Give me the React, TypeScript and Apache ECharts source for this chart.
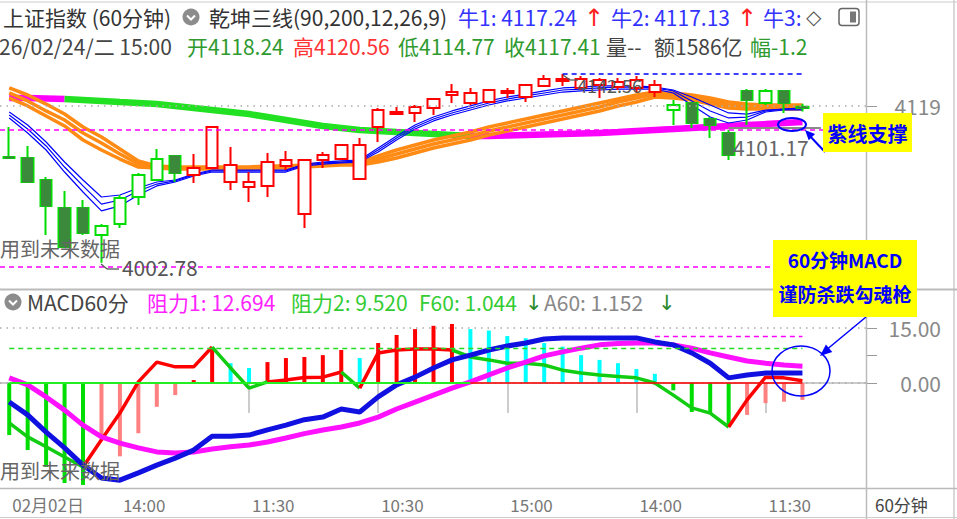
import React, { useEffect, useRef } from "react";
import * as echarts from "echarts";

const FONT = '"Noto Sans CJK SC","Noto Sans",sans-serif';
const ARROW_FONT = '"DejaVu Sans",sans-serif';

// 47 category slots (44 bars + empty space at right)
const categories = Array.from({ length: 47 }, (_, i) => String(i));
const axisTickIndex = [0, 6, 13, 20, 27, 34, 41];
const axisTickText = ["02月02日", "14:00", "11:30", "10:30", "15:00", "14:00", "11:30"];

// [open, close, low, high]
const candles: number[][] = [
  [4081.1, 4080.4, 4079.6, 4103.3],
  [4080.4, 4062.6, 4062.6, 4089.3],
  [4064.1, 4044.9, 4023.4, 4066.3],
  [4043.4, 4014.5, 4013.8, 4056.0],
  [4043.4, 4024.9, 4023.4, 4049.3],
  [4023.4, 4030.1, 4002.78, 4031.5],
  [4031.5, 4050.8, 4028.6, 4053.0],
  [4051.5, 4067.8, 4045.6, 4069.3],
  [4064.1, 4079.6, 4064.1, 4087.0],
  [4081.9, 4069.3, 4062.6, 4081.9],
  [4067.8, 4073.0, 4061.9, 4083.3],
  [4073.0, 4103.3, 4073.0, 4104.1],
  [4075.2, 4062.6, 4056.7, 4088.5],
  [4062.6, 4058.9, 4047.8, 4070.0],
  [4059.7, 4077.4, 4051.5, 4084.1],
  [4078.9, 4074.5, 4071.5, 4085.6],
  [4038.9, 4078.9, 4028.6, 4079.6],
  [4078.9, 4082.6, 4073.0, 4084.8],
  [4079.6, 4090.0, 4078.9, 4090.0],
  [4090.0, 4064.8, 4064.8, 4095.2],
  [4103.3, 4115.9, 4092.2, 4117.4],
  [4114.4, 4112.9, 4112.2, 4118.1],
  [4113.7, 4118.1, 4107.0, 4119.6],
  [4117.4, 4124.0, 4112.2, 4124.8],
  [4129.2, 4127.0, 4121.1, 4135.1],
  [4128.5, 4121.1, 4119.6, 4132.2],
  [4121.8, 4130.7, 4121.1, 4131.4],
  [4130.0, 4128.5, 4124.8, 4132.2],
  [4125.5, 4134.4, 4121.8, 4135.1],
  [4133.7, 4138.8, 4133.7, 4141.8],
  [4138.8, 4137.4, 4133.7, 4142.56],
  [4138.8, 4132.2, 4130.7, 4141.1],
  [4138.1, 4134.4, 4124.8, 4139.6],
  [4136.6, 4132.9, 4130.7, 4139.6],
  [4138.1, 4132.2, 4129.2, 4141.1],
  [4134.4, 4129.2, 4125.5, 4138.1],
  [4115.9, 4119.6, 4104.8, 4123.3],
  [4121.1, 4106.3, 4102.6, 4121.1],
  [4109.2, 4104.8, 4095.2, 4110.7],
  [4098.9, 4082.6, 4078.9, 4101.1],
  [4130.0, 4123.3, 4104.8, 4131.4],
  [4121.1, 4130.0, 4119.6, 4131.4],
  [4130.0, 4121.1, 4113.7, 4130.0],
  [4118.24, 4117.41, 4114.77, 4120.56],
];
const candleTone = "ggggggggggrrrrrrrrrrrrrrrrrrrrrrrrrrgggggggg";

// 乾坤三线: long line (green falling / magenta rising)
const longLine = [4124.8, 4124.8, 4124.4, 4124.0, 4123.3, 4122.6, 4121.8, 4121.1, 4120.3, 4118.9, 4117.4, 4115.9, 4114.4, 4112.9, 4110.7, 4108.5, 4106.3, 4104.1, 4102.6, 4101.1, 4100.4, 4099.6, 4098.9, 4098.1, 4097.4, 4096.7, 4096.7, 4097.0, 4097.4, 4097.8, 4098.1, 4098.5, 4098.9, 4099.6, 4100.4, 4101.1, 4101.8, 4102.6, 4103.3, 4104.1, 4104.8, 4105.5, 4106.3, 4107.0];
const longTurns = [3, 25];

const orangeA = [4132.2, 4127.0, 4120.3, 4112.9, 4103.3, 4095.9, 4087.0, 4078.2, 4074.5, 4073.7, 4073.7, 4073.7, 4073.7, 4073.7, 4074.5, 4074.5, 4075.2, 4075.9, 4076.7, 4076.7, 4081.9, 4086.3, 4090.0, 4093.7, 4096.7, 4099.6, 4103.3, 4106.3, 4109.2, 4112.2, 4115.2, 4118.1, 4121.1, 4124.0, 4127.0, 4129.2, 4128.5, 4127.0, 4124.8, 4121.8, 4120.3, 4119.6, 4119.6, 4119.6];
const orangeB = [4128.5, 4122.6, 4115.2, 4108.5, 4098.9, 4091.5, 4083.3, 4075.9, 4073.7, 4073.0, 4073.0, 4073.0, 4073.0, 4073.0, 4073.7, 4073.7, 4074.5, 4075.2, 4075.9, 4075.9, 4079.6, 4083.3, 4087.0, 4090.7, 4093.7, 4096.7, 4100.4, 4103.3, 4106.3, 4109.2, 4112.2, 4115.2, 4118.1, 4121.8, 4124.8, 4127.7, 4127.0, 4124.8, 4122.6, 4119.6, 4118.9, 4118.1, 4118.1, 4118.1];
const orangeC = [4124.8, 4118.9, 4111.5, 4104.1, 4093.7, 4086.3, 4079.6, 4073.7, 4073.0, 4072.2, 4072.2, 4072.2, 4072.2, 4072.2, 4073.0, 4073.0, 4073.7, 4074.5, 4075.2, 4075.2, 4077.4, 4080.4, 4084.1, 4087.8, 4090.7, 4093.7, 4097.4, 4100.4, 4103.3, 4106.3, 4109.2, 4112.2, 4115.2, 4118.9, 4121.8, 4125.5, 4124.8, 4123.3, 4120.3, 4117.4, 4116.6, 4116.6, 4116.6, 4116.6];

const blueA = [4114.4, 4104.8, 4092.2, 4077.4, 4064.1, 4051.5, 4053.0, 4058.2, 4062.6, 4064.1, 4068.5, 4071.5, 4071.5, 4071.5, 4071.5, 4071.5, 4075.9, 4077.4, 4078.2, 4078.9, 4087.8, 4096.7, 4104.8, 4110.7, 4115.2, 4118.9, 4122.6, 4125.5, 4127.7, 4130.0, 4132.2, 4132.9, 4133.7, 4133.7, 4133.7, 4132.9, 4130.7, 4125.5, 4119.6, 4113.7, 4112.9, 4115.9, 4116.6, 4117.4];
const blueB = [4112.2, 4101.8, 4089.3, 4073.7, 4059.7, 4046.3, 4049.3, 4056.0, 4061.1, 4063.4, 4067.8, 4070.8, 4070.8, 4070.8, 4070.8, 4070.8, 4075.2, 4076.7, 4077.4, 4078.2, 4086.3, 4095.2, 4103.3, 4109.2, 4113.7, 4117.4, 4121.1, 4124.0, 4126.3, 4128.5, 4130.7, 4131.4, 4132.2, 4132.9, 4132.9, 4132.2, 4130.0, 4122.6, 4115.2, 4110.0, 4110.7, 4115.2, 4116.6, 4116.6];
const blueC = [4110.0, 4098.9, 4086.3, 4070.0, 4055.2, 4041.2, 4044.9, 4053.0, 4059.7, 4062.6, 4067.1, 4070.0, 4070.0, 4070.0, 4070.0, 4070.0, 4074.5, 4075.9, 4076.7, 4077.4, 4084.8, 4093.7, 4101.8, 4107.8, 4112.2, 4115.9, 4119.6, 4122.6, 4124.8, 4127.0, 4129.2, 4130.0, 4130.7, 4131.4, 4131.4, 4131.4, 4128.5, 4119.6, 4110.7, 4106.3, 4108.5, 4114.4, 4115.9, 4115.9];

const priceLabel = 4119;
const highMark = 4142.56;
const lowMark = 4002.78;
const supportLevel = 4101.17;
const roundLevel = 4000;

// MACD panel
const histValues = [-14.2, -18.3, -22.9, -27.3, -27.8, -15.0, -20.0, -13.7, -6.5, -3.3, 0.8, 9.8, 5.4, 4.1, 5.7, 6.8, 7.1, 7.6, 9.0, 6.8, 10.9, 13.1, 14.7, 15.6, 16.1, 14.7, 14.3, 12.8, 12.2, 10.9, 9.9, 7.6, 6.3, 5.4, 3.8, 2.5, -2.0, -7.9, -8.2, -12.0, -8.7, -5.5, -5.1, -4.6];
const histTone = "gggggppppprrccrrrrrcrrrrrcccccccccccggggpppp";
const difLine = [-5.2, -8.7, -13.4, -17.7, -22.4, -25.9, -26.5, -24.5, -22.4, -20.5, -18.3, -14.5, -14.5, -14.2, -12.8, -11.5, -10.0, -9.3, -7.1, -7.9, -3.8, -0.5, 1.6, 4.1, 6.3, 7.6, 9.0, 10.1, 10.9, 12.0, 12.3, 12.3, 12.3, 12.3, 12.3, 11.2, 10.4, 8.2, 5.4, 1.4, 2.2, 2.7, 2.7, 2.7];
const deaLine = [1.4, -0.5, -3.8, -7.4, -11.5, -14.7, -16.4, -17.7, -18.8, -19.1, -18.8, -18.0, -17.4, -16.9, -16.1, -15.0, -13.8, -12.8, -12.0, -10.9, -9.3, -7.1, -5.2, -3.3, -1.4, 0.3, 2.2, 4.1, 5.7, 7.4, 8.5, 9.5, 10.4, 10.8, 10.9, 10.9, 10.4, 9.5, 8.2, 7.1, 6.0, 5.4, 4.9, 4.6];
const trendLine = [-10.9, -14.7, -17.4, -20.2, -22.9, -15.5, -8.2, 0.3, 5.7, 4.4, 4.4, 9.8, 4.1, -1.4, 0.3, 0.8, 1.5, 1.6, 3.0, -1.4, 8.2, 9.0, 9.3, 9.3, 9.0, 7.1, 6.3, 5.4, 5.4, 4.9, 3.5, 2.7, 2.2, 1.8, 1.4, 0, -3.3, -6.8, -8.2, -12.0, -4.6, 1.6, 1.4, 0.6];
const trendTurns = [4, 11, 14, 18, 19, 24, 39];
const resist1 = 12.694;
const resist2 = 9.52;
const zeroSplit = 25;

const RED = "#ff0000";
const GREEN = "#00dd00";
const DKGREEN = "#3b8a3b";
const PINK = "#ff8080";
const CYAN = "#00ffff";
const MAGENTA = "#ff00ff";
const ORANGE = "#ff8a14";
const BLUE = "#0000ff";

function runSeries(values: number[], turns: number[], colors: string[], base: any) {
  const bounds = [0, ...turns, values.length - 1];
  const out: any[] = [];
  for (let k = 0; k < bounds.length - 1; k++) {
    const a = bounds[k], b = bounds[k + 1];
    out.push({
      ...base,
      type: "line",
      data: values.map((v, i) => (i >= a && i <= b ? v : null)),
      lineStyle: { ...(base.lineStyle || {}), color: colors[k % colors.length] },
      itemStyle: { color: colors[k % colors.length] },
    });
  }
  return out;
}

export default function App() {
  const ref = useRef<HTMLDivElement>(null);
  useEffect(() => {
    if (!ref.current) return;
    const chart = echarts.init(ref.current, null, { renderer: "svg" });

    const lineBase = (xi: number) => ({
      xAxisIndex: xi, yAxisIndex: xi, showSymbol: false, symbol: "none", silent: true, connectNulls: false,
    });

    const candleItems = candles.map((c, i) => {
      const col = candleTone[i] === "r" ? RED : GREEN;
      return {
        value: c,
        itemStyle: { color: "#ffffff", color0: candleTone[i] === "r" ? RED : DKGREEN, borderColor: col, borderColor0: col },
      };
    });
    const bodyItems = candles.map((c, i) =>
      candleTone[i] === "g" && c[1] < c[0]
        ? { value: [c[0], c[1], c[1], c[0]], itemStyle: { color0: DKGREEN, borderColor0: DKGREEN } }
        : "-"
    );
    const histItems = histValues.map((v, i) => ({
      value: v,
      itemStyle: { color: ({ g: GREEN, p: PINK, r: RED, c: CYAN } as any)[histTone[i]] },
    }));

    const series: any[] = [];
    series.push(
      ...runSeries(longLine, longTurns, [MAGENTA, "#22e022", MAGENTA], { ...lineBase(0), z: 2, lineStyle: { width: 6.5 } })
    );
    series.push({
      ...lineBase(0), type: "line", z: 2, data: orangeA, lineStyle: { width: 3.5, color: ORANGE },
      markLine: {
        silent: true, symbol: "none", label: { show: false },
        data: [
          { yAxis: priceLabel, lineStyle: { type: [1.5, 5], color: "#aaaaaa", width: 1.5 } },
          { yAxis: supportLevel, lineStyle: { type: [5, 4], color: MAGENTA, width: 1.5 } },
          { yAxis: roundLevel, lineStyle: { type: [5, 4], color: MAGENTA, width: 1.5 } },
        ],
      },
    });
    series.push({ ...lineBase(0), type: "line", z: 2, data: orangeB, lineStyle: { width: 3.5, color: ORANGE } });
    series.push({ ...lineBase(0), type: "line", z: 2, data: orangeC, lineStyle: { width: 3.5, color: ORANGE } });
    series.push({ ...lineBase(0), type: "line", z: 2, data: blueA, lineStyle: { width: 1.2, color: BLUE } });
    series.push({ ...lineBase(0), type: "line", z: 2, data: blueB, lineStyle: { width: 1.2, color: BLUE } });
    series.push({ ...lineBase(0), type: "line", z: 2, data: blueC, lineStyle: { width: 1.2, color: BLUE } });
    series.push({
      type: "candlestick", xAxisIndex: 0, yAxisIndex: 0, z: 3, silent: true, barWidth: 12,
      data: candleItems, itemStyle: { borderWidth: 2 },
      markLine: {
        silent: true, symbol: "none", label: { show: false },
        data: [
          [{ coord: [30, highMark], lineStyle: { type: [5, 4], color: BLUE, width: 1.5 } }, { coord: [43, highMark] }],
          [{ coord: [39, 4102.6], lineStyle: { type: "solid", color: "#8a8a8a", width: 2 } }, { coord: [44, 4102.6] }],
        ],
      },
      markPoint: {
        silent: true, symbol: "circle", symbolSize: 1, itemStyle: { color: "rgba(0,0,0,0)" },
        data: [
          { coord: [5, lowMark], label: { show: true, position: "right", distance: 20, offset: [0, 4], formatter: lowMark.toFixed(2), color: "#555", fontSize: 21, fontFamily: FONT } },
          { coord: [30, highMark], label: { show: true, position: "right", distance: 14, offset: [0, 11], formatter: highMark.toFixed(2), color: "#555", fontSize: 18, fontFamily: FONT } },
        ],
      },
    });
    series.push({
      type: "candlestick", xAxisIndex: 0, yAxisIndex: 0, z: 4, silent: true, barWidth: 10,
      data: bodyItems, itemStyle: { borderWidth: 1 },
    });

    series.push({
      type: "bar", xAxisIndex: 1, yAxisIndex: 1, z: 2, silent: true, barWidth: 4, data: histItems,
      markLine: {
        silent: true, symbol: "none", label: { show: false },
        data: [
          { yAxis: 15, lineStyle: { type: [1.5, 5], color: "#aaaaaa", width: 1.5 } },
          { yAxis: 0, lineStyle: { type: [1.5, 5], color: "#aaaaaa", width: 1.5 } },
          [{ coord: [0, resist2], lineStyle: { type: [5, 4], color: "#22dd22", width: 1.3 } }, { coord: [43, resist2] }],
          [{ coord: [35, resist1], lineStyle: { type: [5, 4], color: MAGENTA, width: 1.3 } }, { coord: [43, resist1] }],
          [{ coord: [0, 0], lineStyle: { type: "solid", color: "#22ee22", width: 2 } }, { coord: [zeroSplit, 0] }],
          [{ coord: [zeroSplit, 0], lineStyle: { type: "solid", color: RED, width: 1.5 } }, { coord: [43, 0] }],
        ],
      },
    });
    series.push(
      ...runSeries(trendLine, trendTurns, ["#11cc11", RED], { ...lineBase(1), z: 3, lineStyle: { width: 3.5 } })
    );
    series.push({ ...lineBase(1), type: "line", z: 4, data: deaLine, lineStyle: { width: 5, color: "#ff10ff" } });
    series.push({ ...lineBase(1), type: "line", z: 4, data: difLine, lineStyle: { width: 5, color: "#1010e0" } });

    const txt = (x: number, y: number, text: string, fill: string, size: number, extra: any = {}) => ({
      type: "text", x, y, z: 100, silent: true,
      style: {
        text, fill, fontSize: size, fontFamily: extra.family || FONT, lineHeight: size + 1,
        align: extra.align || "left", textAlign: extra.align || "left",
        verticalAlign: "middle", textVerticalAlign: "middle",
        fontWeight: extra.bold ? "bold" : "normal",
      },
    });
    const ln = (x1: number, y1: number, x2: number, y2: number, stroke: string, lineWidth: number) => ({
      type: "line", z: 90, silent: true, shape: { x1, y1, x2, y2 }, style: { stroke, lineWidth },
    });
    const icon = (cx: number, cy: number) => [
      { type: "circle", z: 100, silent: true, shape: { cx, cy, r: 8.5 }, style: { fill: "#8c8c8c" } },
      { type: "polyline", z: 101, silent: true, shape: { points: [[cx - 4, cy - 1.5], [cx, cy + 2.5], [cx + 4, cy - 1.5]] }, style: { stroke: "#fff", lineWidth: 2, fill: null } },
    ];
    const H = 21;
    const arrow = { family: ARROW_FONT };

    const graphics: any[] = [
      ln(0, 2, 957, 2, "#cccccc", 1),
      ln(866.5, 0, 866.5, 519, "#bbbbbb", 1.5),
      ln(954, 0, 954, 519, "#cccccc", 1.5),
      ln(0, 289.5, 957, 289.5, "#bbbbbb", 2),
      ln(0, 488.5, 957, 488.5, "#bbbbbb", 1.5),
      ln(0, 517.5, 957, 517.5, "#cccccc", 1),
      txt(3, 17, "上证指数 (60分钟)", "#333", H),
      ...icon(191, 17),
      txt(209, 17, "乾坤三线(90,200,12,26,9)", "#333", H),
      txt(458, 17, "牛1: 4117.24", "#3333ff", H),
      txt(584, 18, "↑", "#ff2020", 24, arrow),
      txt(611, 17, "牛2: 4117.13", "#3333ff", H),
      txt(737, 18, "↑", "#ff2020", 24, arrow),
      txt(763, 17, "牛3:", "#3333ff", H),
      txt(806, 17, "◇", "#555", 20, arrow),
      { type: "rect", z: 100, silent: true, shape: { x: 839, y: 8.5, width: 20, height: 17, r: 3 }, style: { stroke: "#666", lineWidth: 1.5, fill: null } },
      { type: "rect", z: 100, silent: true, shape: { x: 850, y: 11.5, width: 6, height: 11 }, style: { fill: "#777" } },
      txt(-1, 46, "26/02/24/二 15:00", "#444", H),
      txt(187, 46, "开4118.24", "#2f9a2f", H),
      txt(293, 46, "高4120.56", "#ff3333", H),
      txt(398, 46, "低4114.77", "#2f9a2f", H),
      txt(504, 46, "收4117.41", "#2f9a2f", H),
      txt(606, 46, "量--", "#444", H),
      txt(654, 46, "额1586亿", "#444", H),
      txt(750, 46, "幅-1.2", "#2f9a2f", H),
      ...icon(13, 302),
      txt(27, 302, "MACD60分", "#444", H),
      txt(147, 302, "阻力1: 12.694", "#ff22ff", H),
      txt(291, 302, "阻力2: 9.520", "#33cc33", H),
      txt(419, 302, "F60: 1.044", "#33cc33", H),
      txt(525, 303, "↓", "#2a8a2a", 21, arrow),
      txt(544, 302, "A60: 1.152", "#888", H),
      txt(658, 303, "↓", "#2a8a2a", 21, arrow),
      txt(0, 248, "用到未来数据", "#666", 20),
      txt(0, 470, "用到未来数据", "#666", 20),
      txt(733, 147, "4101.17", "#666", H),
      txt(875, 504, "60分钟", "#444", 17),
      ln(101, 264, 107, 269, "#555", 1.3),
      ln(107, 269, 119, 269, "#555", 1.3),
      ln(563, 75, 570, 80, "#555", 1.3),
      ln(570, 80, 578, 80, "#555", 1.3),
      { type: "ellipse", z: 95, silent: true, shape: { cx: 792, cy: 124.5, rx: 14, ry: 6.5 }, style: { stroke: BLUE, lineWidth: 2, fill: null } },
      ln(825, 152, 808, 134, BLUE, 2),
      { type: "polygon", z: 95, silent: true, shape: { points: [[805, 130], [815.1, 134.1], [808.7, 140.3]] }, style: { fill: BLUE } },
      { type: "rect", z: 96, silent: true, shape: { x: 823, y: 113, width: 89, height: 39 }, style: { fill: "#ffff00" } },
      txt(867.5, 133, "紫线支撑", BLUE, 20, { align: "center", bold: true }),
      { type: "ellipse", z: 95, silent: true, shape: { cx: 801, cy: 371, rx: 29, ry: 25 }, style: { stroke: BLUE, lineWidth: 1.5, fill: null } },
      ln(866, 317, 825, 351, BLUE, 1.5),
      { type: "polygon", z: 95, silent: true, shape: { points: [[820, 356], [832.3, 352.0], [825.9, 344.4]] }, style: { fill: BLUE } },
      { type: "rect", z: 96, silent: true, shape: { x: 773, y: 240, width: 144, height: 77 }, style: { fill: "#ffff00" } },
      txt(845, 259, "60分钟MACD", BLUE, 19, { align: "center", bold: true }),
      txt(845, 293, "谨防杀跌勾魂枪", BLUE, 19, { align: "center", bold: true }),
    ];

    const option: any = {
      animation: false,
      backgroundColor: "#ffffff",
      textStyle: { fontFamily: FONT },
      grid: [
        { left: -3, right: 90, top: 60, height: 225 },
        { left: -3, right: 90, top: 315, height: 172 },
      ],
      xAxis: [
        { type: "category", gridIndex: 0, data: categories, boundaryGap: true, show: false },
        {
          type: "category", gridIndex: 1, data: categories, boundaryGap: true,
          axisLine: { show: true, lineStyle: { color: "#bbbbbb", width: 1.5 } },
          axisTick: {
            show: true, alignWithLabel: true, length: 30, lineStyle: { color: "#bbbbbb", width: 1.5 },
            interval: (i: number) => i > 0 && axisTickIndex.includes(i),
          },
          axisLabel: {
            interval: (i: number) => axisTickIndex.includes(i),
            formatter: (_v: string, i: number) => {
              const k = axisTickIndex.indexOf(i);
              return k >= 0 ? axisTickText[k] : "";
            },
            align: "left", padding: [0, 0, 0, 3], margin: 9, color: "#777", fontSize: 17, fontFamily: FONT,
          },
          splitLine: { show: false },
        },
      ],
      yAxis: [
        {
          type: "value", gridIndex: 0, position: "right", min: 3986.4, max: 4152.9, scale: true,
          axisLine: { show: false }, splitLine: { show: false },
          axisTick: { show: true, customValues: [priceLabel], length: 10, lineStyle: { color: "#999" } },
          axisLabel: { customValues: [priceLabel], formatter: (v: number) => String(Math.round(v)), color: "#888", fontSize: 21, align: "right", margin: 74, fontFamily: FONT },
        },
        {
          type: "value", gridIndex: 1, position: "right", min: -28.364, max: 18.545,
          axisLine: { show: false }, splitLine: { show: false },
          axisTick: { show: true, customValues: [0, 7.5, 15], length: 10, lineStyle: { color: "#999" } },
          axisLabel: { customValues: [0, 15], formatter: (v: number) => v.toFixed(2), color: "#888", fontSize: 21, align: "right", margin: 74, fontFamily: FONT },
        },
      ],
      series,
      graphic: graphics,
    };
    chart.setOption(option);
    return () => chart.dispose();
  }, []);
  return <div ref={ref} style={{ position: "fixed", left: 0, top: 0, width: 957, height: 519, background: "#fff" }} />;
}
